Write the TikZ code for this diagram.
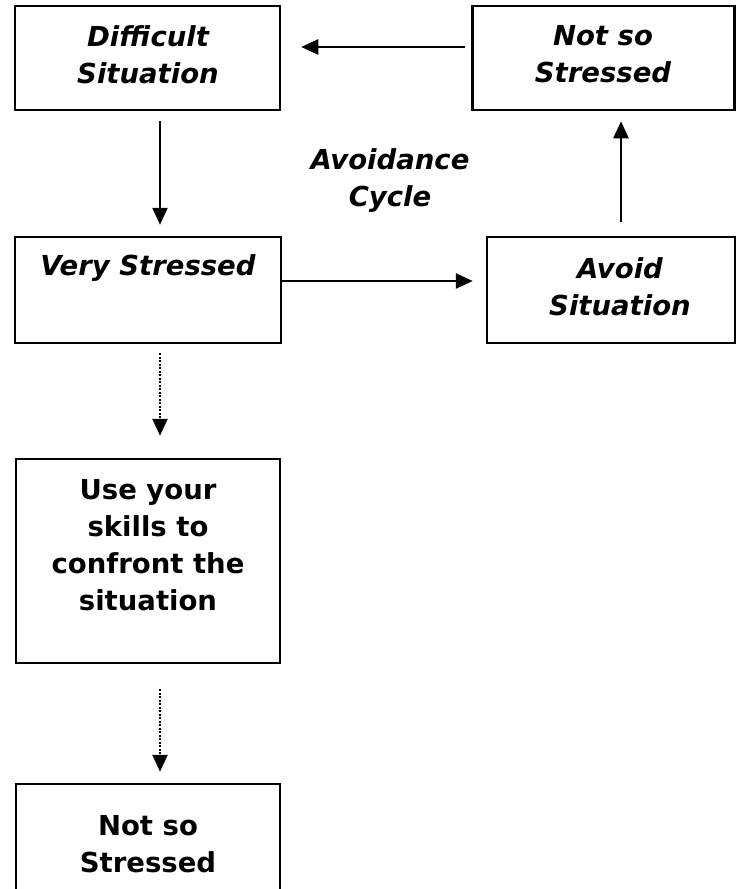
\documentclass[tikz,border=0pt]{standalone}
\usepackage{fontspec}
\setmainfont{DejaVu Sans}
\usetikzlibrary{arrows.meta,calc}
\tikzset{
  box/.style={draw=black, line width=2.5pt, rectangle, inner sep=0pt},
  txt/.style={align=center, font=\fontsize{27.5}{37}\selectfont\bfseries\itshape, inner sep=0pt},
  txtup/.style={align=center, font=\fontsize{27.5}{37}\selectfont\bfseries, inner sep=0pt},
  arr/.style={line width=2.5pt, -{Triangle[length=17pt,width=15pt]}},
  darr/.style={line width=2.5pt, dash pattern=on 2pt off 1.5pt, -{Triangle[length=17pt,width=15pt]}},
}
\begin{document}
\begin{tikzpicture}[x=1pt,y=-1pt]
\clip (0,0) rectangle (736,889);
\fill[white] (0,0) rectangle (736,889);
% boxes
\node[box, minimum width=265pt, minimum height=104pt] (b1) at (147.5,58) {};
\node[box, minimum width=262pt, minimum height=104pt] (b2) at (603.5,58) {};
\node[box, minimum width=266pt, minimum height=106pt] (b3) at (148,290) {};
\node[box, minimum width=248pt, minimum height=106pt] (b4) at (611,290) {};
\node[box, minimum width=264pt, minimum height=204pt] (b5) at (148,561) {};
\node[box, minimum width=264pt, minimum height=130pt] (b6) at (148,849) {};
% texts
\node[txt] (t1) at (148,55) {Difficult\\Situation};
\node[txt] (t2) at (603,54) {Not so\\Stressed};
\node[txt] (t0) at (390,181) {Avoidance\\Cycle};
\node[txt] (t3) at (148,268) {Very Stressed};
\node[txt] (t4) at (620,287) {Avoid\\Situation};
\node[txtup] (t5) at (148,545) {Use your\\skills to\\confront the\\situation};
\node[txtup] (t6) at (148,844) {Not so\\Stressed};
% connectors
\draw[arr, shorten <=6pt, shorten >=20pt] ([yshift=11pt]b2.west) -- ([yshift=11pt]b1.east);
\draw[arr, shorten <=10pt, shorten >=11pt] (b1.south -| 160,0) -- (b3.north -| 160,0);
\draw[arr, shorten >=13pt] ([yshift=9pt]b3.east) -- ([yshift=9pt]b4.west);
\draw[arr, shorten <=14pt, shorten >=10pt] (b4.north -| 621,0) -- (b2.south -| 621,0);
\draw[darr, shorten <=9pt, shorten >=22pt] (b3.south -| 160,0) -- (b5.north -| 160,0);
\draw[darr, shorten <=25pt, shorten >=11pt] (b5.south -| 160,0) -- (b6.north -| 160,0);
\end{tikzpicture}
\end{document}
